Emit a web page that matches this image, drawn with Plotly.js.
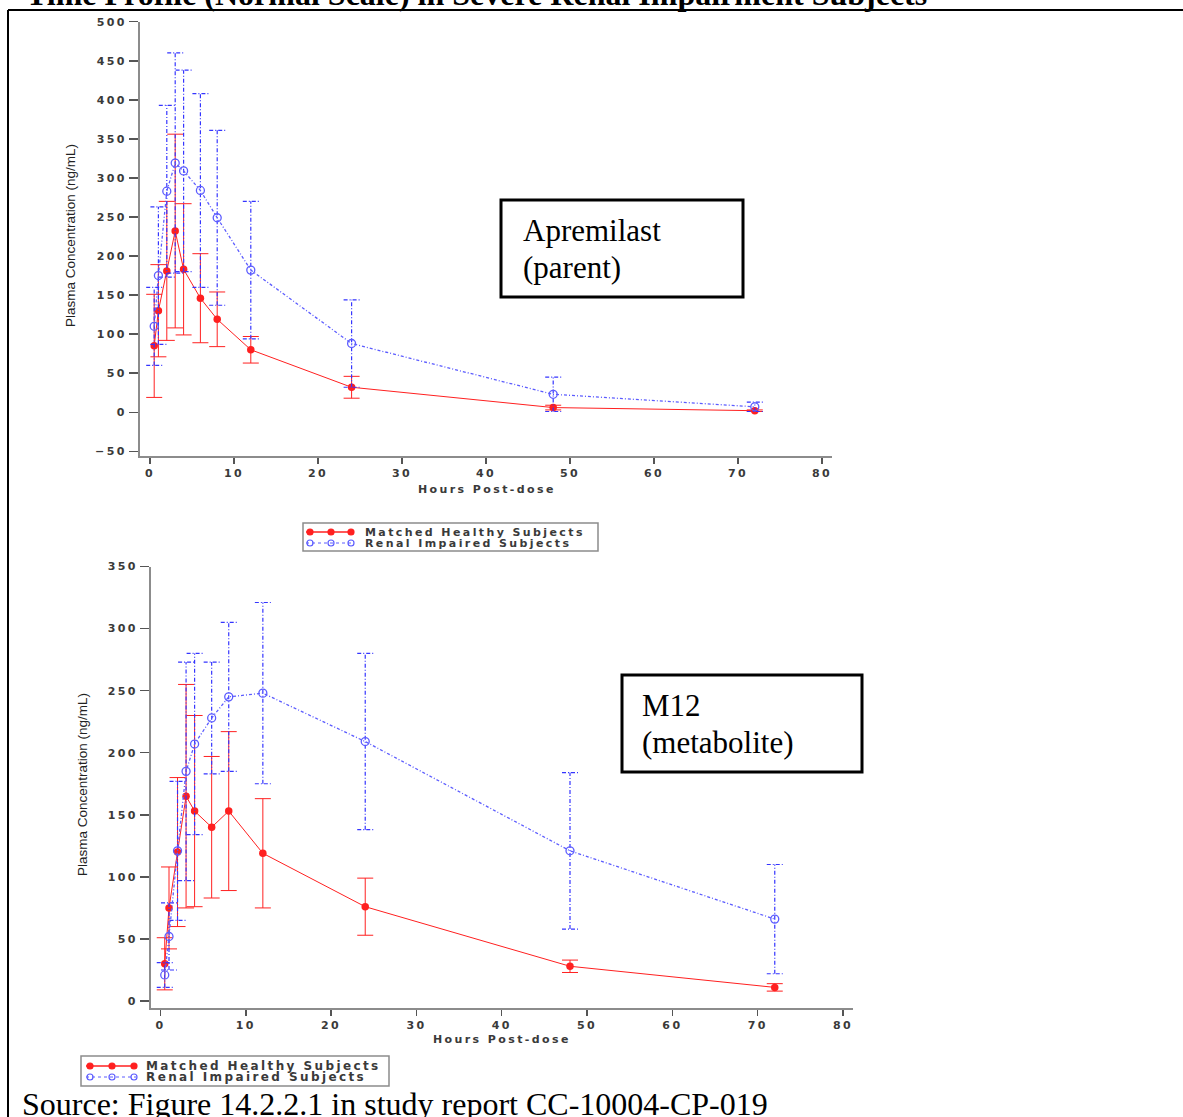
<!DOCTYPE html>
<html>
<head>
<meta charset="utf-8">
<script src="https://cdn.plot.ly/plotly-3.0.1.min.js"></script>
<style>
  html, body { margin: 0; padding: 0; background: #fff; }
  #chart { width: 1183px; height: 1117px; }
  /* SAS-style wide sans labels */
  .main-svg text[style*="DejaVu Sans"]:not([style*="Narrow"]):not([style*="Condensed"]) { letter-spacing: 2.4px; }
</style>
</head>
<body>
<div id="chart"></div>
<script>
// Sampling times (hours post-dose)
const hours = [0.5, 1, 2, 3, 4, 6, 8, 12, 24, 48, 72];

// Apremilast (parent), ng/mL: mean and SD
const apremHealthyMean = [85, 130, 181, 232, 183, 146, 119, 80, 32, 6, 2];
const apremHealthySD   = [66, 59, 89, 124, 84, 57, 35, 17, 14, 3, 1];
const apremRenalMean   = [110, 175, 283, 319, 309, 284, 249, 182, 88, 23, 7];
const apremRenalSD     = [50, 88, 110, 141, 129, 124, 112, 88, 56, 22, 6];

// M12 (metabolite), ng/mL: mean and SD
const m12HealthyMean = [30, 75, 120, 165, 153, 140, 153, 119, 76, 28, 11];
const m12HealthySD   = [21, 33, 60, 90, 77, 57, 64, 44, 23, 5, 3];
const m12RenalMean   = [21, 52, 121, 185, 207, 228, 245, 248, 209, 121, 66];
const m12RenalSD     = [10, 27, 56, 88, 73, 45, 60, 73, 71, 63, 44];

// Axis ticks
const xTicks = [0, 10, 20, 30, 40, 50, 60, 70, 80];
const yTicksTop = [-50, 0, 50, 100, 150, 200, 250, 300, 350, 400, 450, 500];
const yTicksBottom = [0, 50, 100, 150, 200, 250, 300, 350];

const seriesNames = ['Matched Healthy Subjects', 'Renal Impaired Subjects'];

// ---- page geometry helpers (pixels -> paper fractions) ----
const W = 1183, H = 1117;
const px = v => v / W;
const py = v => 1 - v / H;

const RED = '#ff2020';
const BLUE_LINE = '#5c5cff';
const BLUE_BAR = '#3535ff';
const CAP_PX = 8;

const xDomTop = [px(140), px(832)], xRangeTop = [-1.19, 81.19];
const yDomTop = [py(456), py(21.7)], yRangeTop = [-56, 500];
const xDomBot = [px(151), px(853)], xRangeBot = [-1.11, 81.17];
const yDomBot = [py(1008), py(566.5)], yRangeBot = [-5.6, 350];

// half-width of an error-bar cap, expressed in x data units
function capUnits(dom, rng) {
  const pxPerUnit = (dom[1] - dom[0]) * W / (rng[1] - rng[0]);
  return CAP_PX / pxPerUnit;
}

// dashed error bars (stem + two caps) for one series
function dashedBars(t, mean, sd, c, xa, ya) {
  const x = [], y = [];
  t.forEach((ti, i) => {
    const lo = mean[i] - sd[i], hi = mean[i] + sd[i];
    x.push(ti, ti, null, ti - c, ti + c, null, ti - c, ti + c, null);
    y.push(lo, hi, null, hi, hi, null, lo, lo, null);
  });
  return {
    x, y, xaxis: xa, yaxis: ya, type: 'scatter', mode: 'lines',
    line: { color: BLUE_BAR, width: 1.2, dash: '4px,2px,1px,2px' },
    hoverinfo: 'skip', showlegend: false
  };
}

function healthyTrace(mean, sd, xa, ya) {
  return {
    x: hours, y: mean, xaxis: xa, yaxis: ya, type: 'scatter', mode: 'lines+markers',
    name: seriesNames[0],
    line: { color: RED, width: 1 },
    marker: { color: RED, size: 7.5, symbol: 'circle' },
    error_y: { type: 'data', array: sd, visible: true, color: RED, thickness: 1, width: CAP_PX },
    showlegend: false
  };
}

function renalTrace(mean, xa, ya) {
  return {
    x: hours, y: mean, xaxis: xa, yaxis: ya, type: 'scatter', mode: 'lines+markers',
    name: seriesNames[1],
    line: { color: BLUE_LINE, width: 1.3, dash: '3px,2px,1px,2px' },
    marker: { color: BLUE_LINE, size: 8, symbol: 'circle-open', line: { width: 1.3 } },
    showlegend: false
  };
}

const capTop = capUnits(xDomTop, xRangeTop);
const capBot = capUnits(xDomBot, xRangeBot);

const data = [
  healthyTrace(apremHealthyMean, apremHealthySD, 'x', 'y'),
  dashedBars(hours, apremRenalMean, apremRenalSD, capTop, 'x', 'y'),
  renalTrace(apremRenalMean, 'x', 'y'),
  healthyTrace(m12HealthyMean, m12HealthySD, 'x2', 'y2'),
  dashedBars(hours, m12RenalMean, m12RenalSD, capBot, 'x2', 'y2'),
  renalTrace(m12RenalMean, 'x2', 'y2')
];

const tickFont = { family: 'DejaVu Sans', size: 11, color: '#3a3a3a', weight: 'bold' };
const axisCommon = {
  showgrid: false, zeroline: false, showline: true,
  linecolor: '#8c8c8c', linewidth: 2,
  ticks: 'outside', tickcolor: '#555', tickwidth: 1.5,
  tickfont: tickFont, fixedrange: true
};

const sansFont = { family: 'DejaVu Sans', size: 11, color: '#3a3a3a', weight: 'bold' };
const narrowFont = { family: 'Liberation Sans Narrow, Arial Narrow, sans-serif', size: 13.5, color: '#222' };
const serifFont = { family: 'Liberation Serif, Times New Roman, serif', size: 31, color: '#000' };

function pxLine(x0, y0, x1, y1, color, width, dash) {
  return { type: 'line', xref: 'paper', yref: 'paper', x0: px(x0), y0: py(y0), x1: px(x1), y1: py(y1),
           line: { color, width, dash: dash || 'solid' } };
}
function pxRect(x0, y0, x1, y1, color, width) {
  return { type: 'rect', xref: 'paper', yref: 'paper', x0: px(x0), y0: py(y1), x1: px(x1), y1: py(y0),
           line: { color, width }, fillcolor: 'rgba(0,0,0,0)' };
}
function pxDot(cx, cy, r, color, filled) {
  return { type: 'circle', xref: 'paper', yref: 'paper', x0: px(cx - r), x1: px(cx + r), y0: py(cy + r), y1: py(cy - r),
           line: { color, width: 1.2 }, fillcolor: filled ? color : 'rgba(0,0,0,0)' };
}

// key box with the two series samples
function keyShapes(x0, y0, x1, y1, rowA, rowB, sx0, sx1, dots) {
  const s = [pxRect(x0, y0, x1, y1, '#8c8c8c', 1.5)];
  s.push(pxLine(sx0, rowA, sx1, rowA, RED, 1.5));
  dots.forEach(d => s.push(pxDot(d, rowA, 3, RED, true)));
  s.push(pxLine(sx0, rowB, sx1, rowB, BLUE_LINE, 1, 'dot'));
  dots.forEach(d => s.push(pxDot(d, rowB, 3, BLUE_LINE, false)));
  return s;
}

const shapes = [
  // page frame
  pxLine(8, 10, 1183, 10, '#000', 2),
  pxLine(8, 10, 8, 1117, '#000', 2),
  // label boxes
  pxRect(501, 200, 743, 297, '#000', 3),
  pxRect(622, 675, 862, 772, '#000', 3),
  ...keyShapes(303, 523, 598, 551, 532, 543, 306, 354, [310, 331, 351]),
  ...keyShapes(81, 1056, 389, 1086, 1066, 1077, 86, 136, [90, 112, 134])
];

function note(text, x, y, font, extra) {
  return Object.assign({ text, xref: 'paper', yref: 'paper', x: px(x), y: py(y), showarrow: false,
                         font, xanchor: 'left', yanchor: 'middle', align: 'left' }, extra || {});
}

const centered = { xanchor: 'center', align: 'center' };

const annotations = [
  note('<b>Time Profile (Normal Scale) in Severe Renal Impairment Subjects</b>', 24, -6,
       Object.assign({}, serifFont, { size: 32 })),
  note('Apremilast', 521, 230, serifFont),
  note('(parent)', 521, 268, serifFont),
  note('M12', 640, 705, serifFont),
  note('(metabolite)', 640, 742, serifFont),
  note('Source: Figure 14.2.2.1 in study report CC-10004-CP-019', 20, 1104,
       Object.assign({}, serifFont, { size: 32 })),
  // axis titles
  note('Plasma Concentration (ng/mL)', 70, 236, narrowFont, Object.assign({ textangle: -90 }, centered)),
  note('Plasma Concentration (ng/mL)', 82, 785, narrowFont, Object.assign({ textangle: -90 }, centered)),
  note('Hours Post-dose', 487, 489, sansFont, centered),
  note('Hours Post-dose', 502, 1039, sansFont, centered),
  // key labels
  note(seriesNames[0], 363, 532, sansFont),
  note(seriesNames[1], 363, 543, sansFont),
  note(seriesNames[0], 144, 1066, Object.assign({}, sansFont, { size: 12 })),
  note(seriesNames[1], 144, 1077, Object.assign({}, sansFont, { size: 12 }))
];

const layout = {
  width: W, height: H,
  margin: { l: 0, r: 0, t: 0, b: 0 },
  paper_bgcolor: '#fff', plot_bgcolor: '#fff',
  showlegend: false,
  xaxis: Object.assign({}, axisCommon, { domain: xDomTop, range: xRangeTop, anchor: 'y',
                        tickvals: xTicks, ticklen: 6 }),
  yaxis: Object.assign({}, axisCommon, { domain: yDomTop, range: yRangeTop, anchor: 'x',
                        tickvals: yTicksTop, ticklen: 9 }),
  xaxis2: Object.assign({}, axisCommon, { domain: xDomBot, range: xRangeBot, anchor: 'y2',
                         tickvals: xTicks, ticklen: 6 }),
  yaxis2: Object.assign({}, axisCommon, { domain: yDomBot, range: yRangeBot, anchor: 'x2',
                         tickvals: yTicksBottom, ticklen: 9 }),
  shapes, annotations
};

Plotly.newPlot('chart', data, layout, { staticPlot: true, displayModeBar: false });
</script>
</body>
</html>
